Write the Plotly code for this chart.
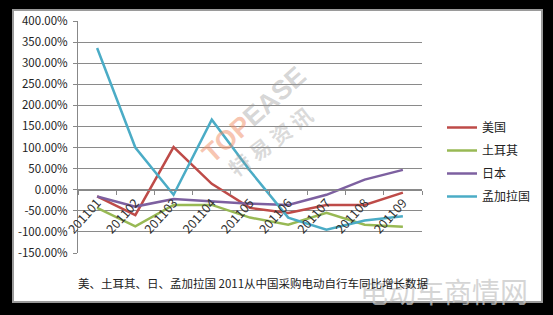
import plotly.graph_objects as go

months = ["201101", "201102", "201103", "201104", "201105", "201106", "201107", "201108", "201109"]
usa = [-16, -60, 101, 14, -43, -55, -36, -36, -7]
turkey = [-43, -87, -36, -36, -66, -83, -55, -83, -88]
japan = [-16, -40, -22, -28, -33, -36, -12, 24, 47]
bangladesh = [336, 100, -12, 166, 45, -66, -95, -73, -63]
series_names = ["美国", "土耳其", "日本", "孟加拉国"]
colors = ["#BE4B48", "#98B954", "#7D60A0", "#4BACC6"]
y_ticks = [400, 350, 300, 250, 200, 150, 100, 50, 0, -50, -100, -150]
title_text = "美、土耳其、日、孟加拉国 2011从中国采购电动自行车同比增长数据"

W, H = 553, 315
L, R, T, B = 78, 422, 21, 253

def px(x):
    return (x - L) / (R - L)

def py(y):
    return (B - y) / (B - T)

fig = go.Figure()
for name, vals, c in zip(series_names, [usa, turkey, japan, bangladesh], colors):
    fig.add_trace(go.Scatter(x=months, y=vals, name=name, mode="lines", legendgroup=name,
                             line=dict(color=c, width=2.5)))

ymin, ymax = -150, 400
fig.update_layout(
    width=W, height=H,
    margin=dict(l=L, r=W - R, t=T, b=H - B),
    paper_bgcolor="black", plot_bgcolor="white",
    font=dict(family="Noto Sans CJK SC, Noto Sans, sans-serif", size=11, color="#222"),
    showlegend=True,
    legend=dict(x=px(442), y=py(113), xanchor="left", yanchor="top",
                bgcolor="rgba(0,0,0,0)", font=dict(size=12, color="#222"),
                itemwidth=30, tracegroupgap=4),
    xaxis=dict(type="category", anchor="free", position=(0 - ymin) / (ymax - ymin),
               showgrid=False, showline=True, linecolor="#888", linewidth=1,
               ticks="outside", ticklen=4, tickcolor="#888", tickson="boundaries",
               tickangle=-48, tickfont=dict(size=12.5, color="#333"),
               range=[-0.5, len(months) - 0.5]),
    yaxis=dict(range=[ymin, ymax], tickvals=y_ticks,
               ticktext=[f"{v:.2f}%" for v in y_ticks],
               showgrid=True, gridcolor="#8a8a8a", gridwidth=1,
               zeroline=False, showline=True, linecolor="#888",
               ticks="outside", ticklen=4, tickcolor="#888", ticklabelstandoff=3,
               tickfont=dict(size=11.5, color="#222")),
)

# white chart frame on black background
fig.add_shape(type="rect", xref="paper", yref="paper",
              x0=px(13), x1=px(542), y0=py(302), y1=py(10),
              fillcolor="white", line=dict(color="#9a9a9a", width=2), layer="below")

# watermarks
fig.add_annotation(xref="paper", yref="paper", x=px(254), y=py(115),
                   xanchor="center", yanchor="middle",
                   text="<b><span style='color:rgba(240,140,100,0.5)'>TOP</span>"
                        "<span style='color:rgba(150,150,150,0.4)'>EASE</span></b>",
                   showarrow=False, textangle=-42, font=dict(size=27, family="Arial, Liberation Sans"))
fig.add_annotation(xref="paper", yref="paper", x=px(270), y=py(141),
                   xanchor="center", yanchor="middle",
                   text="<b>特 易 资 讯</b>", showarrow=False, textangle=-37,
                   font=dict(size=21, color="rgba(150,150,150,0.35)"))
fig.add_annotation(xref="paper", yref="paper", x=px(444), y=py(291),
                   xanchor="center", yanchor="middle",
                   text="电动车商情网", showarrow=False,
                   font=dict(size=28, color="rgba(200,200,200,0.75)",
                             family="Noto Sans CJK SC"))

# bottom caption
fig.add_annotation(xref="paper", yref="paper", x=px(253), y=py(283),
                   xanchor="center", yanchor="middle",
                   text=title_text, showarrow=False,
                   font=dict(size=11.5, color="#222"))

fig.write_html("out.html")
